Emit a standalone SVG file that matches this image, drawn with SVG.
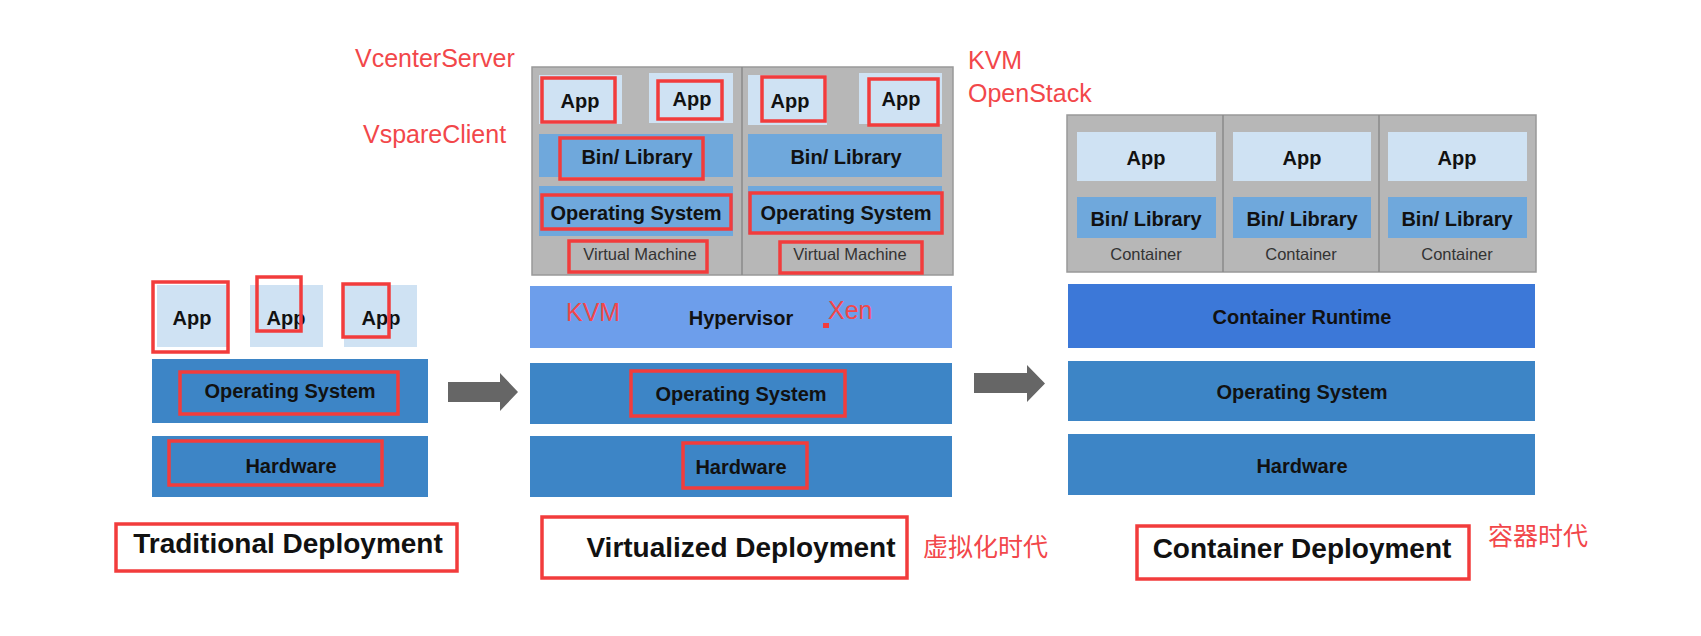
<svg xmlns="http://www.w3.org/2000/svg" width="1701" height="636" viewBox="0 0 1701 636">
<style>
text{font-family:"Liberation Sans",Arial,"Noto Sans CJK SC",sans-serif}
.lbl{font-size:20px;font-weight:bold;fill:#111;text-anchor:middle}
.small{font-size:16.5px;fill:#333;text-anchor:middle}
.hdr{font-size:28px;font-weight:bold;fill:#111;text-anchor:middle}
.note{font-size:25px;fill:#f2474a}
.app{fill:#cfe2f3}
.bin{fill:#6fa8dc}
.os{fill:#3d85c6}
.hyp{fill:#6d9eeb}
.rt{fill:#3c78d8}
.gray{fill:#b7b7b7;stroke:#999;stroke-width:1.5}
.div{stroke:#8a8a8a;stroke-width:1.5}
.red{fill:none;stroke:#f23c3c;stroke-width:3.5}
.arrow{fill:#666}
</style>
<rect width="1701" height="636" fill="#fff"/>

<!-- Traditional deployment -->
<g id="trad-app1"><rect class="app" x="157" y="285" width="70" height="62"/><text class="lbl" x="192" y="325">App</text></g>
<g id="trad-app2"><rect class="app" x="250" y="285" width="73" height="62"/><text class="lbl" x="286" y="325">App</text></g>
<g id="trad-app3"><rect class="app" x="344" y="285" width="73" height="62"/><text class="lbl" x="381" y="325">App</text></g>
<g id="trad-os"><rect class="os" x="152" y="359" width="276" height="64"/><text class="lbl" x="290" y="398">Operating System</text></g>
<g id="trad-hw"><rect class="os" x="152" y="436" width="276" height="61"/><text class="lbl" x="291" y="473">Hardware</text></g>
<g id="trad-title"><text class="hdr" x="288" y="553">Traditional Deployment</text></g>

<!-- Virtualized deployment -->
<g id="vm-box"><rect class="gray" x="532" y="67" width="421" height="208"/><line class="div" x1="742" y1="67" x2="742" y2="275"/></g>
<g id="vm1">
<rect class="app" x="539" y="75" width="83" height="49"/><text class="lbl" x="580" y="108">App</text>
<rect class="app" x="649" y="73" width="84" height="50"/><text class="lbl" x="692" y="106">App</text>
<rect class="bin" x="539" y="134" width="194" height="43"/><text class="lbl" x="637" y="164">Bin/ Library</text>
<rect class="bin" x="539" y="186" width="194" height="50"/><text class="lbl" x="636" y="220">Operating System</text>
<text class="small" x="640" y="260">Virtual Machine</text>
</g>
<g id="vm2">
<rect class="app" x="748" y="75" width="79" height="50"/><text class="lbl" x="790" y="108">App</text>
<rect class="app" x="859" y="73" width="83" height="51"/><text class="lbl" x="901" y="106">App</text>
<rect class="bin" x="748" y="134" width="194" height="43"/><text class="lbl" x="846" y="164">Bin/ Library</text>
<rect class="bin" x="748" y="186" width="194" height="48"/><text class="lbl" x="846" y="220">Operating System</text>
<text class="small" x="850" y="260">Virtual Machine</text>
</g>
<g id="virt-hyp"><rect class="hyp" x="530" y="286" width="422" height="62"/><text class="lbl" x="741" y="325">Hypervisor</text></g>
<g id="virt-os"><rect class="os" x="530" y="363" width="422" height="61"/><text class="lbl" x="741" y="401">Operating System</text></g>
<g id="virt-hw"><rect class="os" x="530" y="436" width="422" height="61"/><text class="lbl" x="741" y="474">Hardware</text></g>
<g id="virt-title"><text class="hdr" x="741" y="557">Virtualized Deployment</text></g>

<!-- Container deployment -->
<g id="ct-box"><rect class="gray" x="1067" y="115" width="469" height="157"/><line class="div" x1="1223" y1="115" x2="1223" y2="272"/><line class="div" x1="1379" y1="115" x2="1379" y2="272"/></g>
<g id="ct1"><rect class="app" x="1077" y="132" width="139" height="49"/><text class="lbl" x="1146" y="165">App</text><rect class="bin" x="1077" y="197" width="139" height="41"/><text class="lbl" x="1146" y="226">Bin/ Library</text><text class="small" x="1146" y="260">Container</text></g>
<g id="ct2"><rect class="app" x="1233" y="132" width="138" height="49"/><text class="lbl" x="1302" y="165">App</text><rect class="bin" x="1233" y="197" width="138" height="41"/><text class="lbl" x="1302" y="226">Bin/ Library</text><text class="small" x="1301" y="260">Container</text></g>
<g id="ct3"><rect class="app" x="1388" y="132" width="139" height="49"/><text class="lbl" x="1457" y="165">App</text><rect class="bin" x="1388" y="197" width="139" height="41"/><text class="lbl" x="1457" y="226">Bin/ Library</text><text class="small" x="1457" y="260">Container</text></g>
<g id="ct-rt"><rect class="rt" x="1068" y="284" width="467" height="64"/><text class="lbl" x="1302" y="324">Container Runtime</text></g>
<g id="ct-os"><rect class="os" x="1068" y="361" width="467" height="60"/><text class="lbl" x="1302" y="399">Operating System</text></g>
<g id="ct-hw"><rect class="os" x="1068" y="434" width="467" height="61"/><text class="lbl" x="1302" y="473">Hardware</text></g>
<g id="ct-title"><text class="hdr" x="1302" y="558">Container Deployment</text></g>

<!-- Connectors -->
<g id="connectors">
<polygon class="arrow" points="448,382 500,382 500,373 518,392 500,411 500,402 448,402"/>
<polygon class="arrow" points="974,373 1027,373 1027,365 1045,383.5 1027,402 1027,393 974,393"/>
</g>

<!-- Red annotations -->
<g id="annotations">
<rect class="red" x="153" y="282" width="75" height="70"/>
<rect class="red" x="257" y="277" width="44" height="54"/>
<rect class="red" x="343" y="284" width="46" height="53"/>
<rect class="red" x="180" y="372" width="218" height="42"/>
<rect class="red" x="169" y="441" width="213" height="44"/>
<rect class="red" x="116" y="524" width="341" height="47"/>

<rect class="red" x="542" y="78" width="73" height="44"/>
<rect class="red" x="658" y="81" width="64" height="38"/>
<rect class="red" x="560" y="138" width="143" height="41"/>
<rect class="red" x="542" y="195" width="189" height="34"/>
<rect class="red" x="569" y="241" width="138" height="31"/>
<rect class="red" x="762" y="77" width="63" height="44"/>
<rect class="red" x="869" y="79" width="69" height="46"/>
<rect class="red" x="750" y="193" width="192" height="40"/>
<rect class="red" x="780" y="242" width="142" height="31"/>
<rect x="823" y="323" width="6" height="5" fill="#f23c3c"/>
<rect class="red" x="631" y="371" width="214" height="45"/>
<rect class="red" x="683" y="443" width="124" height="45"/>
<rect class="red" x="542" y="517" width="365" height="61"/>
<rect class="red" x="1137" y="526" width="332" height="53"/>

<text class="note" x="355" y="67">VcenterServer</text>
<text class="note" x="363" y="143">VspareClient</text>
<text class="note" x="968" y="69">KVM</text>
<text class="note" x="968" y="102">OpenStack</text>
<text class="note" x="566" y="321">KVM</text>
<text class="note" x="828" y="319">Xen</text>
<text class="note" x="923" y="556" style="font-family:'Noto Sans CJK SC',sans-serif">虚拟化时代</text>
<text class="note" x="1488" y="545" style="font-family:'Noto Sans CJK SC',sans-serif">容器时代</text>
</g>
</svg>
